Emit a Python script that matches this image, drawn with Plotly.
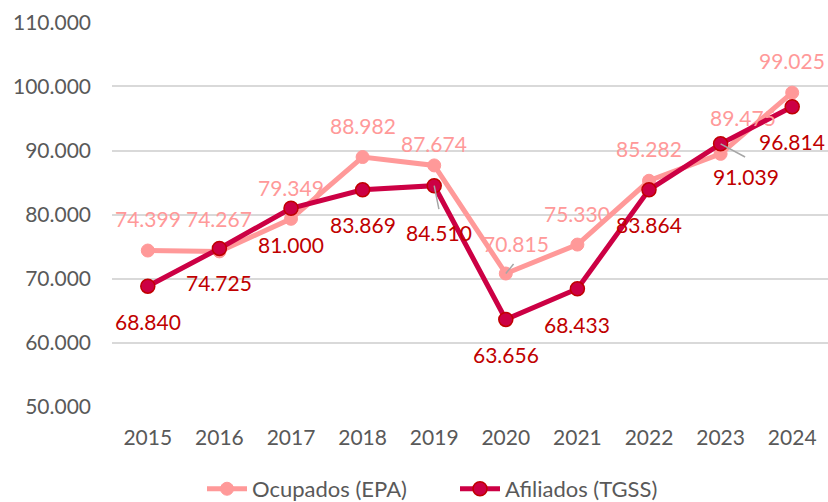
import plotly.graph_objects as go

years = [2015, 2016, 2017, 2018, 2019, 2020, 2021, 2022, 2023, 2024]
ocupados = [74399, 74267, 79349, 88982, 87674, 70815, 75330, 85282, 89475, 99025]
afiliados = [68840, 74725, 81000, 83869, 84510, 63656, 68433, 83864, 91039, 96814]
y_ticks = [50000, 60000, 70000, 80000, 90000, 100000, 110000]

# label offsets (pixels) - styling
oc_dx = [0, 0, 0, 0, 0, 10, 0, 0, 22, 0]
oc_dy = [32, 33, 31, 32, 22, 30, 31, 32, 36, 32]
af_dx = [0, 0, 0, 0, 5, 0, 0, 0, 25, 0]
af_dy = [-35, -34, -36, -35, -47, -35, -36, -35, -33, -35]

FONT = "Lato"
PINK = "#FF9999"
CRIMSON = "#CC0044"
DARKRED = "#C00000"


def fmt(v):
    return f"{v:,}".replace(",", ".")


fig = go.Figure()
fig.add_trace(go.Scatter(
    x=years, y=ocupados, name="Ocupados (EPA)",
    mode="lines+markers",
    line=dict(color=PINK, width=5),
    marker=dict(color=PINK, size=13, line=dict(color=PINK, width=1)),
))
fig.add_trace(go.Scatter(
    x=years, y=afiliados, name="Afiliados (TGSS)",
    mode="lines+markers",
    line=dict(color=CRIMSON, width=5),
    marker=dict(color=CRIMSON, size=14, line=dict(color=DARKRED, width=1.5)),
))

# leader lines
leaders = [(years[5], ocupados[5], 9, -11), (years[4], afiliados[4], 5, 25), (years[8], afiliados[8], 26, 14)]
for x, y, ax, ay in leaders:
    fig.add_annotation(x=x, y=y, ax=ax, ay=ay, text="", showarrow=True,
                       arrowhead=0, arrowwidth=1.5, arrowcolor="#A6A6A6",
                       axref="pixel", ayref="pixel", standoff=0, startstandoff=0)

for i, yr in enumerate(years):
    fig.add_annotation(x=yr, y=ocupados[i], text=fmt(ocupados[i]), showarrow=False,
                       xshift=oc_dx[i], yshift=oc_dy[i],
                       font=dict(family=FONT, size=21, color=PINK))
    fig.add_annotation(x=yr, y=afiliados[i], text=fmt(afiliados[i]), showarrow=False,
                       xshift=af_dx[i], yshift=af_dy[i],
                       font=dict(family=FONT, size=21, color=DARKRED))

fig.update_layout(
    width=828, height=502,
    margin=dict(l=112, r=0, t=22, b=95, autoexpand=False),
    paper_bgcolor="white", plot_bgcolor="white",
    separators=",.",
    font=dict(family=FONT, size=21, color="#595959"),
    showlegend=True,
    legend=dict(orientation="h", xref="container", yref="container",
                x=202 / 828, xanchor="left", y=0.026, yanchor="middle",
                font=dict(family=FONT, size=22, color="#595959"),
                entrywidth=198, entrywidthmode="pixels",
                itemwidth=40, tracegroupgap=0),
)
fig.update_xaxes(range=[2014.5, 2024.5], tickvals=years, showgrid=False,
                 showline=False, ticks="", zeroline=False, ticklabelstandoff=16,
                 tickfont=dict(family=FONT, size=21, color="#595959"))
fig.update_yaxes(range=[50000, 110040], tickvals=y_ticks, tickformat=",.0f",
                 showgrid=True, gridcolor="#D9D9D9", gridwidth=1.5,
                 zeroline=False, showline=False, ticks="", ticklabelstandoff=20,
                 tickfont=dict(family=FONT, size=21, color="#595959"))

fig.write_html("out.html", config={"displayModeBar": False},
               post_script="document.body.style.margin='0';")
